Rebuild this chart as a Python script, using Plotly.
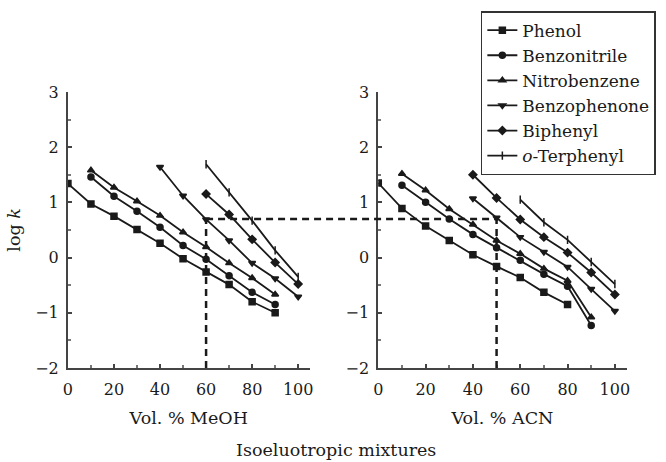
import plotly.graph_objects as go

# log k values (MeOH on the left, ACN on the right)
solutes = ["Phenol", "Benzonitrile", "Nitrobenzene", "Benzophenone", "Biphenyl", "<i>o</i>-Terphenyl"]
symbols = ["square", "circle", "triangle-up", "triangle-down", "diamond", "line-ns"]

meoh_x = [
    [0, 10, 20, 30, 40, 50, 60, 70, 80, 90],
    [10, 20, 30, 40, 50, 60, 70, 80, 90],
    [10, 20, 30, 40, 50, 60, 70, 80, 90],
    [40, 50, 60, 70, 80, 90, 100],
    [60, 70, 80, 90, 100],
    [60, 70, 80, 90, 100],
]
meoh_logk = [
    [1.34, 0.97, 0.75, 0.51, 0.26, -0.02, -0.26, -0.49, -0.8, -1.0],
    [1.46, 1.11, 0.84, 0.55, 0.22, -0.03, -0.33, -0.63, -0.85],
    [1.58, 1.27, 1.02, 0.76, 0.46, 0.19, -0.1, -0.37, -0.67],
    [1.64, 1.12, 0.69, 0.31, -0.1, -0.38, -0.71],
    [1.15, 0.78, 0.33, -0.09, -0.48],
    [1.69, 1.18, 0.67, 0.13, -0.35],
]

acn_x = [
    [0, 10, 20, 30, 40, 50, 60, 70, 80],
    [10, 20, 30, 40, 50, 60, 70, 80, 90],
    [10, 20, 30, 40, 50, 60, 70, 80, 90],
    [40, 50, 60, 70, 80, 90, 100],
    [40, 50, 60, 70, 80, 90, 100],
    [60, 70, 80, 90, 100],
]
acn_logk = [
    [1.35, 0.89, 0.57, 0.31, 0.05, -0.16, -0.36, -0.63, -0.85],
    [1.31, 1.0, 0.7, 0.42, 0.18, -0.05, -0.3, -0.52, -1.23],
    [1.52, 1.22, 0.88, 0.6, 0.31, 0.07, -0.2, -0.42, -1.08],
    [1.07, 0.72, 0.37, 0.1, -0.17, -0.57, -0.97],
    [1.5, 1.08, 0.69, 0.37, 0.09, -0.27, -0.67],
    [1.05, 0.64, 0.32, -0.08, -0.48],
]

# isoeluotropic guide: 60 % MeOH ~ 50 % ACN at log k 0.7
ref_meoh = 60
ref_acn = 50
ref_logk = 0.7

font = "DejaVu Serif"
ink = "#1a1a1a"
xdom1 = [0.102, 0.465]
xdom2 = [0.568, 0.941]
xrange_ = [0, 105]
yrange_ = [-2, 3]

fig = go.Figure()
for i, name in enumerate(solutes):
    mk = dict(symbol=symbols[i], size=6, color=ink, line=dict(color=ink, width=1.5))
    fig.add_trace(go.Scatter(x=meoh_x[i], y=meoh_logk[i], mode="lines+markers", name=name,
                             line=dict(color=ink, width=1.8), marker=mk,
                             xaxis="x", yaxis="y", legendgroup=name))
    fig.add_trace(go.Scatter(x=acn_x[i], y=acn_logk[i], mode="lines+markers", name=name,
                             line=dict(color=ink, width=1.8), marker=mk,
                             xaxis="x2", yaxis="y2", legendgroup=name, showlegend=False))


def to_paper(v, dom):
    return dom[0] + (v - xrange_[0]) / (xrange_[1] - xrange_[0]) * (dom[1] - dom[0])


dash = dict(color=ink, width=2.5, dash="7px,5px")
fig.add_shape(type="line", xref="x", yref="y", x0=ref_meoh, x1=ref_meoh, y0=yrange_[0], y1=ref_logk, line=dash)
fig.add_shape(type="line", xref="x2", yref="y2", x0=ref_acn, x1=ref_acn, y0=yrange_[0], y1=ref_logk, line=dash)
fig.add_shape(type="line", xref="paper", yref="y", x0=to_paper(ref_meoh, xdom1), x1=to_paper(ref_acn, xdom2),
              y0=ref_logk, y1=ref_logk, line=dash)

axis_common = dict(range=xrange_, tickvals=[0, 20, 40, 60, 80, 100], showgrid=False, zeroline=False,
                   showline=True, linecolor="#444", linewidth=2, ticks="inside", ticklen=4,
                   tickcolor="#444", tickwidth=1.5, ticklabelstandoff=6, automargin=False,
                   minor=dict(tickvals=[10, 30, 50, 70, 90], ticks="inside", ticklen=3, tickcolor="#777"),
                   tickfont=dict(family=font, size=16, color=ink))
yaxis_common = dict(range=yrange_, tickvals=[-2, -1, 0, 1, 2, 3], ticktext=["\u22122", "\u22121", "0", "1", "2", "3"],
                    showgrid=False, zeroline=False, showline=True, linecolor="#444", linewidth=2,
                    ticks="inside", ticklen=4, tickcolor="#444", tickwidth=1.5, ticklabelstandoff=4,
                    automargin=False,
                    minor=dict(tickvals=[-1.5, -0.5, 0.5, 1.5, 2.5], ticks="inside", ticklen=3, tickcolor="#777"),
                    tickfont=dict(family=font, size=16, color=ink), domain=[0.2035, 0.801])

fig.update_layout(
    template="none",
    width=666, height=462,
    margin=dict(l=0, r=0, t=0, b=0, autoexpand=False),
    paper_bgcolor="white", plot_bgcolor="white",
    font=dict(family=font, size=17, color=ink),
    xaxis=dict(axis_common, domain=xdom1, anchor="y",
               title=dict(text="Vol. % MeOH", font=dict(family=font, size=17.5), standoff=14)),
    yaxis=dict(yaxis_common, anchor="x",
               title=dict(text="log <i>k</i>", font=dict(family=font, size=17.5), standoff=10)),
    xaxis2=dict(axis_common, domain=xdom2, anchor="y2",
                title=dict(text="Vol. % ACN", font=dict(family=font, size=17.5), standoff=14)),
    yaxis2=dict(yaxis_common, anchor="x2"),
    legend=dict(x=0.722, y=0.976, xanchor="left", yanchor="top", bordercolor="#333", borderwidth=1.5,
                bgcolor="white", font=dict(family=font, size=17, color=ink), tracegroupgap=0,
                itemwidth=30),
    showlegend=True,
)
fig.add_annotation(text="Isoeluotropic mixtures", xref="paper", yref="paper", x=0.505, y=0.026,
                   showarrow=False, font=dict(family=font, size=17.5, color=ink), yanchor="middle")

# page body has a default margin; remove it so the figure sits at the window origin
fig.write_html("out.html", config={"displayModeBar": False},
               post_script="document.body.style.margin='0';")
